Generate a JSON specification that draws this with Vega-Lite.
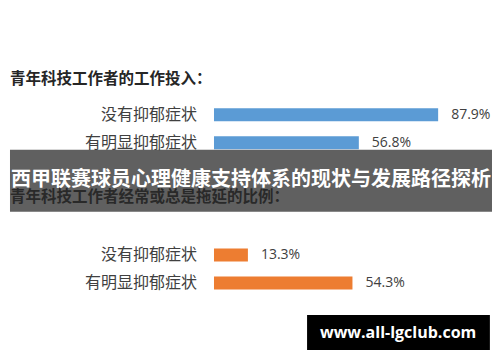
{
  "$schema": "https://vega.github.io/schema/vega-lite/v6.json",
  "width": 500,
  "height": 362,
  "autosize": {"type": "fit", "contains": "padding"},
  "padding": 0,
  "background": "white",
  "config": {"view": {"stroke": null}},
  "data": {
    "values": [
      {"section": "工作投入", "row": "工作投入|没有抑郁症状", "label": "没有抑郁症状", "share": 0.879},
      {"section": "工作投入", "row": "工作投入|有明显抑郁症状", "label": "有明显抑郁症状", "share": 0.568},
      {"section": "拖延", "row": "拖延|没有抑郁症状", "label": "没有抑郁症状", "share": 0.133},
      {"section": "拖延", "row": "拖延|有明显抑郁症状", "label": "有明显抑郁症状", "share": 0.543}
    ]
  },
  "layer": [
    {
      "mark": {"type": "bar", "size": 13},
      "encoding": {
        "y": {"field": "row", "type": "nominal", "axis": null,
          "scale": {"type": "point", "domain": ["top0", "top1", "title1", "工作投入|没有抑郁症状", "工作投入|有明显抑郁症状", "banner", "title2", "gap", "拖延|没有抑郁症状", "拖延|有明显抑郁症状", "gap2", "watermark"], "padding": 0.96, "align": 0.572}},
        "x": {"field": "share", "type": "quantitative", "axis": null, "scale": {"domain": [-0.8392, 1.1216], "nice": false, "zero": false}},
        "color": {"field": "section", "type": "nominal", "legend": null, "scale": {"domain": ["工作投入", "拖延"], "range": ["#5b9bd5", "#ed7d31"]}}
      }
    },
    {
      "mark": {"type": "text", "align": "left", "baseline": "middle", "dx": 13, "font": "Open Sans", "fontSize": 14, "color": "#404040"},
      "encoding": {
        "y": {"field": "row", "type": "nominal", "axis": null,
          "scale": {"type": "point", "domain": ["top0", "top1", "title1", "工作投入|没有抑郁症状", "工作投入|有明显抑郁症状", "banner", "title2", "gap", "拖延|没有抑郁症状", "拖延|有明显抑郁症状", "gap2", "watermark"], "padding": 0.96, "align": 0.572}},
        "x": {"field": "share", "type": "quantitative", "axis": null, "scale": {"domain": [-0.8392, 1.1216], "nice": false, "zero": false}},
        "text": {"field": "share", "type": "quantitative", "format": ".1%"}
      }
    },
    {
      "mark": {"type": "text", "align": "right", "baseline": "middle", "dx": -17, "font": "Noto Sans CJK SC", "fontSize": 16, "color": "#404040"},
      "encoding": {
        "y": {"field": "row", "type": "nominal", "axis": null,
          "scale": {"type": "point", "domain": ["top0", "top1", "title1", "工作投入|没有抑郁症状", "工作投入|有明显抑郁症状", "banner", "title2", "gap", "拖延|没有抑郁症状", "拖延|有明显抑郁症状", "gap2", "watermark"], "padding": 0.96, "align": 0.572}},
        "x": {"datum": 0, "type": "quantitative", "axis": null, "scale": {"domain": [-0.8392, 1.1216], "nice": false, "zero": false}},
        "text": {"field": "label", "type": "nominal"}
      }
    },
    {
      "data": {"values": [{"title": "青年科技工作者的工作投入："}]},
      "mark": {"type": "text", "align": "left", "baseline": "middle", "dy": -8, "font": "Noto Sans CJK SC", "fontSize": 15.5, "fontWeight": "bold", "color": "#262626"},
      "encoding": {
        "y": {"datum": "title1", "type": "nominal", "axis": null,
          "scale": {"type": "point", "domain": ["top0", "top1", "title1", "工作投入|没有抑郁症状", "工作投入|有明显抑郁症状", "banner", "title2", "gap", "拖延|没有抑郁症状", "拖延|有明显抑郁症状", "gap2", "watermark"], "padding": 0.96, "align": 0.572}},
        "x": {"datum": -0.8, "type": "quantitative", "axis": null, "scale": {"domain": [-0.8392, 1.1216], "nice": false, "zero": false}},
        "text": {"field": "title", "type": "nominal"}
      }
    },
    {
      "data": {"values": [{"title": "青年科技工作者经常或总是拖延的比例："}]},
      "mark": {"type": "text", "align": "left", "baseline": "middle", "dy": -2, "font": "Noto Sans CJK SC", "fontSize": 15.5, "fontWeight": "bold", "color": "#262626"},
      "encoding": {
        "y": {"datum": "title2", "type": "nominal", "axis": null,
          "scale": {"type": "point", "domain": ["top0", "top1", "title1", "工作投入|没有抑郁症状", "工作投入|有明显抑郁症状", "banner", "title2", "gap", "拖延|没有抑郁症状", "拖延|有明显抑郁症状", "gap2", "watermark"], "padding": 0.96, "align": 0.572}},
        "x": {"datum": -0.8, "type": "quantitative", "axis": null, "scale": {"domain": [-0.8392, 1.1216], "nice": false, "zero": false}},
        "text": {"field": "title", "type": "nominal"}
      }
    },
    {
      "data": {"values": [{"title": "西甲联赛球员心理健康支持体系的现状与发展路径探析"}]},
      "mark": {"type": "bar", "size": 62, "yOffset": 10, "color": "#2b2b2b", "opacity": 0.75},
      "encoding": {
        "y": {"datum": "banner", "type": "nominal", "axis": null,
          "scale": {"type": "point", "domain": ["top0", "top1", "title1", "工作投入|没有抑郁症状", "工作投入|有明显抑郁症状", "banner", "title2", "gap", "拖延|没有抑郁症状", "拖延|有明显抑郁症状", "gap2", "watermark"], "padding": 0.96, "align": 0.572}},
        "x": {"datum": -0.8, "type": "quantitative", "axis": null, "scale": {"domain": [-0.8392, 1.1216], "nice": false, "zero": false}},
        "x2": {"datum": 1.0902}
      }
    },
    {
      "data": {"values": [{"title": "西甲联赛球员心理健康支持体系的现状与发展路径探析"}]},
      "mark": {"type": "text", "align": "center", "baseline": "middle", "dy": 9, "font": "Noto Sans CJK SC", "fontSize": 20, "fontWeight": "bold", "color": "white"},
      "encoding": {
        "y": {"datum": "banner", "type": "nominal", "axis": null,
          "scale": {"type": "point", "domain": ["top0", "top1", "title1", "工作投入|没有抑郁症状", "工作投入|有明显抑郁症状", "banner", "title2", "gap", "拖延|没有抑郁症状", "拖延|有明显抑郁症状", "gap2", "watermark"], "padding": 0.96, "align": 0.572}},
        "x": {"datum": 0.145, "type": "quantitative", "axis": null, "scale": {"domain": [-0.8392, 1.1216], "nice": false, "zero": false}},
        "text": {"field": "title", "type": "nominal"}
      }
    },
    {
      "data": {"values": [{"site": "www.all-lgclub.com"}]},
      "mark": {"type": "bar", "size": 35, "yOffset": -6.4, "color": "black"},
      "encoding": {
        "y": {"datum": "watermark", "type": "nominal", "axis": null,
          "scale": {"type": "point", "domain": ["top0", "top1", "title1", "工作投入|没有抑郁症状", "工作投入|有明显抑郁症状", "banner", "title2", "gap", "拖延|没有抑郁症状", "拖延|有明显抑郁症状", "gap2", "watermark"], "padding": 0.96, "align": 0.572}},
        "x": {"datum": 0.365, "type": "quantitative", "axis": null, "scale": {"domain": [-0.8392, 1.1216], "nice": false, "zero": false}},
        "x2": {"datum": 1.082}
      }
    },
    {
      "data": {"values": [{"site": "www.all-lgclub.com"}]},
      "mark": {"type": "text", "align": "center", "baseline": "middle", "dy": -6, "font": "Open Sans", "fontSize": 16, "fontWeight": "bold", "color": "white"},
      "encoding": {
        "y": {"datum": "watermark", "type": "nominal", "axis": null,
          "scale": {"type": "point", "domain": ["top0", "top1", "title1", "工作投入|没有抑郁症状", "工作投入|有明显抑郁症状", "banner", "title2", "gap", "拖延|没有抑郁症状", "拖延|有明显抑郁症状", "gap2", "watermark"], "padding": 0.96, "align": 0.572}},
        "x": {"datum": 0.722, "type": "quantitative", "axis": null, "scale": {"domain": [-0.8392, 1.1216], "nice": false, "zero": false}},
        "text": {"field": "site", "type": "nominal"}
      }
    }
  ]
}
